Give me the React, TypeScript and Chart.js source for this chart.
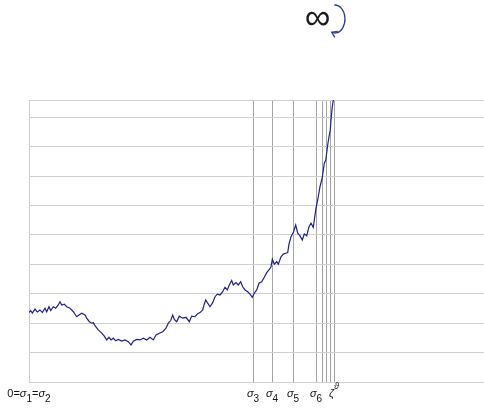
import React, { useEffect, useRef } from "react";
import { Chart, registerables } from "chart.js";

Chart.register(...registerables);

// Sample path: horizontal position and level
const pathX = [
  0, 1.7, 3.3, 6, 8.3, 11, 13.3, 16, 17.7, 20, 21.7, 24.3, 26.7, 29.3, 31, 32.7, 35.3, 37.7, 41, 44.3,
  47.7, 50, 52.7, 56, 57.7, 60.3, 62.7, 64.3, 66.7, 69.3, 72.7, 75.3, 77.7, 80, 82, 84.3, 86.7, 89.3, 92.7, 96,
  99.3, 102, 104.3, 107.7, 111, 114.3, 117.7, 121, 124.3, 127, 130.3, 133.7, 137, 139.3, 141.7, 143.7, 145.3, 147.7, 150.3, 153.7,
  157, 160.3, 162.7, 166, 168.3, 171, 173.7, 175, 176.7, 178.7, 181, 183.7, 186, 188.3, 191, 193.7, 196, 198.3, 200.3, 202.7,
  204.3, 207, 209.3, 211.7, 213.7, 216, 218.7, 221, 223.3, 225.3, 227.7, 230, 232.7, 235.3, 237.7, 240, 242, 243.3, 245.3, 247.7,
  249.3, 252, 254.3, 256.7, 258.7, 260, 262, 264.3, 266.7, 268.7, 271, 273.3, 275.3, 277.7, 280, 282, 284.3, 286, 287, 288.7,
  291, 293.3, 295.3, 296.7, 298.7, 300, 301.3, 302, 303.3, 304.3, 305.5,
];
const pathY = [
  2.36, 2.43, 2.34, 2.48, 2.38, 2.45, 2.36, 2.51, 2.39, 2.56, 2.43, 2.56, 2.51, 2.62, 2.73, 2.62, 2.65, 2.56, 2.51, 2.39,
  2.22, 2.28, 2.34, 2.28, 2.17, 2.05, 2.0, 2.02, 1.88, 1.77, 1.66, 1.56, 1.43, 1.52, 1.43, 1.49, 1.4, 1.45, 1.39, 1.43,
  1.37, 1.26, 1.39, 1.45, 1.43, 1.49, 1.43, 1.52, 1.43, 1.6, 1.66, 1.71, 1.83, 2.0, 2.09, 2.28, 2.13, 2.05, 2.24, 2.17,
  2.2, 2.05, 2.24, 2.22, 2.31, 2.36, 2.45, 2.62, 2.79, 2.68, 2.56, 2.7, 2.9, 2.99, 2.96, 3.07, 3.22, 3.13, 3.3, 3.45,
  3.3, 3.38, 3.3, 3.41, 3.24, 3.13, 3.07, 2.99, 2.88, 3.02, 3.13, 3.36, 3.41, 3.56, 3.72, 3.81, 3.92, 4.17, 4.01, 4.09,
  4.01, 4.26, 4.35, 4.38, 4.4, 4.69, 4.94, 5.08, 5.34, 5.06, 4.97, 4.83, 5.03, 4.97, 5.28, 5.4, 5.26, 5.68, 5.91, 6.19,
  6.64, 6.96, 7.44, 7.53, 8.06, 8.34, 8.57, 8.91, 9.36, 9.59, 10.1,
];

// Marked points on the horizontal axis and their labels
// ("_" lowers the next character, "^" raises it)
const markValues = [0, 224, 243, 264, 287, 293, 297, 301, 305];
const markLabels = ["0=σ_1=σ_2", "σ_3", "σ_4", "σ_5", "σ_6", "", "", "", "ζ^ϑ"];

// Horizontal reference levels
const levelTicks = [0, 1, 2, 3, 4, 5, 6, 7, 8, 9, 9.59];

const X_MAX = 455;
const Y_MAX = 9.59;
const topSymbol = "∞";

const LINE_COLOR = "#1f1f8f";
const ARROW_COLOR = "#2b3aa8";

const isGreek = (ch: string) => /[\u0370-\u03ff]/.test(ch);

type Piece = { text: string; mode: "main" | "sub" | "sup" };

function parseLabel(label: string): Piece[] {
  const out: Piece[] = [];
  for (let i = 0; i < label.length; i++) {
    const ch = label[i];
    if ((ch === "_" || ch === "^") && i + 1 < label.length) {
      out.push({ text: label[i + 1], mode: ch === "_" ? "sub" : "sup" });
      i++;
    } else {
      out.push({ text: ch, mode: "main" });
    }
  }
  return out;
}

function fontFor(p: Piece) {
  const size = p.mode === "main" ? 11 : p.mode === "sub" ? 10 : 9;
  const style = isGreek(p.text) ? "italic " : "";
  return `${style}${size}px "Liberation Sans", Arial, sans-serif`;
}

const markLabelPlugin = {
  id: "markLabels",
  afterDraw(chart: any) {
    const { ctx, scales } = chart;
    const xs = scales.x;
    const baseline = 397;
    ctx.save();
    ctx.fillStyle = "#111";
    ctx.textBaseline = "alphabetic";
    ctx.textAlign = "left";
    markValues.forEach((v, i) => {
      const label = markLabels[i];
      if (!label) return;
      const pieces = parseLabel(label);
      let width = 0;
      const widths = pieces.map((p) => {
        ctx.font = fontFor(p);
        const w = ctx.measureText(p.text).width;
        width += w;
        return w;
      });
      let x = xs.getPixelForValue(v) - width / 2;
      pieces.forEach((p, k) => {
        ctx.font = fontFor(p);
        const dy = p.mode === "sub" ? 5 : p.mode === "sup" ? -8 : 0;
        ctx.fillText(p.text, x, baseline + dy);
        x += widths[k];
      });
    });
    ctx.restore();
  },
};

const headerPlugin = {
  id: "header",
  afterDraw(chart: any) {
    const { ctx } = chart;
    ctx.save();
    ctx.fillStyle = "#1a1a1a";
    ctx.font = '36px "Liberation Sans", Arial, sans-serif';
    ctx.textAlign = "center";
    ctx.textBaseline = "middle";
    ctx.fillText(topSymbol, 317.5, 19);

    // circular arrow beside the symbol
    const cx = 335;
    const cy = 19;
    const rx = 10;
    const ry = 14;
    const t0 = -1.65;
    const t1 = 1.9;
    ctx.strokeStyle = ARROW_COLOR;
    ctx.lineWidth = 1.3;
    ctx.beginPath();
    ctx.ellipse(cx, cy, rx, ry, 0, t0, t1, false);
    ctx.stroke();
    const ex = cx + rx * Math.cos(t1);
    const ey = cy + ry * Math.sin(t1);
    const dx = -rx * Math.sin(t1);
    const dy = ry * Math.cos(t1);
    const ang = Math.atan2(dy, dx);
    const len = 6;
    ctx.beginPath();
    ctx.moveTo(ex + len * Math.cos(ang + Math.PI - 0.6), ey + len * Math.sin(ang + Math.PI - 0.6));
    ctx.lineTo(ex, ey);
    ctx.lineTo(ex + len * Math.cos(ang + Math.PI + 0.6), ey + len * Math.sin(ang + Math.PI + 0.6));
    ctx.stroke();
    ctx.restore();
  },
};

export default function App() {
  const canvasRef = useRef<HTMLCanvasElement | null>(null);

  useEffect(() => {
    const canvas = canvasRef.current;
    if (!canvas) return;
    const points = pathX.map((x, i) => ({ x, y: pathY[i] }));
    const chart = new Chart(canvas, {
      type: "line",
      data: {
        datasets: [
          {
            data: points,
            borderColor: LINE_COLOR,
            borderWidth: 1.2,
            pointRadius: 0,
            tension: 0,
            fill: false,
          },
        ],
      },
      options: {
        animation: false,
        responsive: false,
        devicePixelRatio: 1,
        events: [],
        layout: { padding: { left: 29, top: 100, right: 0, bottom: 27 } },
        plugins: {
          legend: { display: false },
          tooltip: { enabled: false },
          title: { display: false },
        },
        scales: {
          x: {
            type: "linear",
            min: 0,
            max: X_MAX,
            afterBuildTicks: (scale: any) => {
              scale.ticks = markValues.map((value) => ({ value }));
            },
            ticks: { display: false },
            grid: {
              drawTicks: false,
              lineWidth: 1,
              color: (c: any) => (c.tick && c.tick.value === 0 ? "#cccccc" : "#a3a3a3"),
            },
            border: { display: false },
          },
          y: {
            type: "linear",
            min: 0,
            max: Y_MAX,
            afterBuildTicks: (scale: any) => {
              scale.ticks = levelTicks.map((value) => ({ value }));
            },
            ticks: { display: false },
            grid: { drawTicks: false, color: "#cfcfcf", lineWidth: 1 },
            border: { display: false },
          },
        },
      },
      plugins: [markLabelPlugin, headerPlugin],
    });
    return () => chart.destroy();
  }, []);

  return (
    <div style={{ position: "absolute", left: 0, top: 0, width: 484, height: 409, background: "#fff" }}>
      <canvas ref={canvasRef} width={484} height={409} />
    </div>
  );
}
